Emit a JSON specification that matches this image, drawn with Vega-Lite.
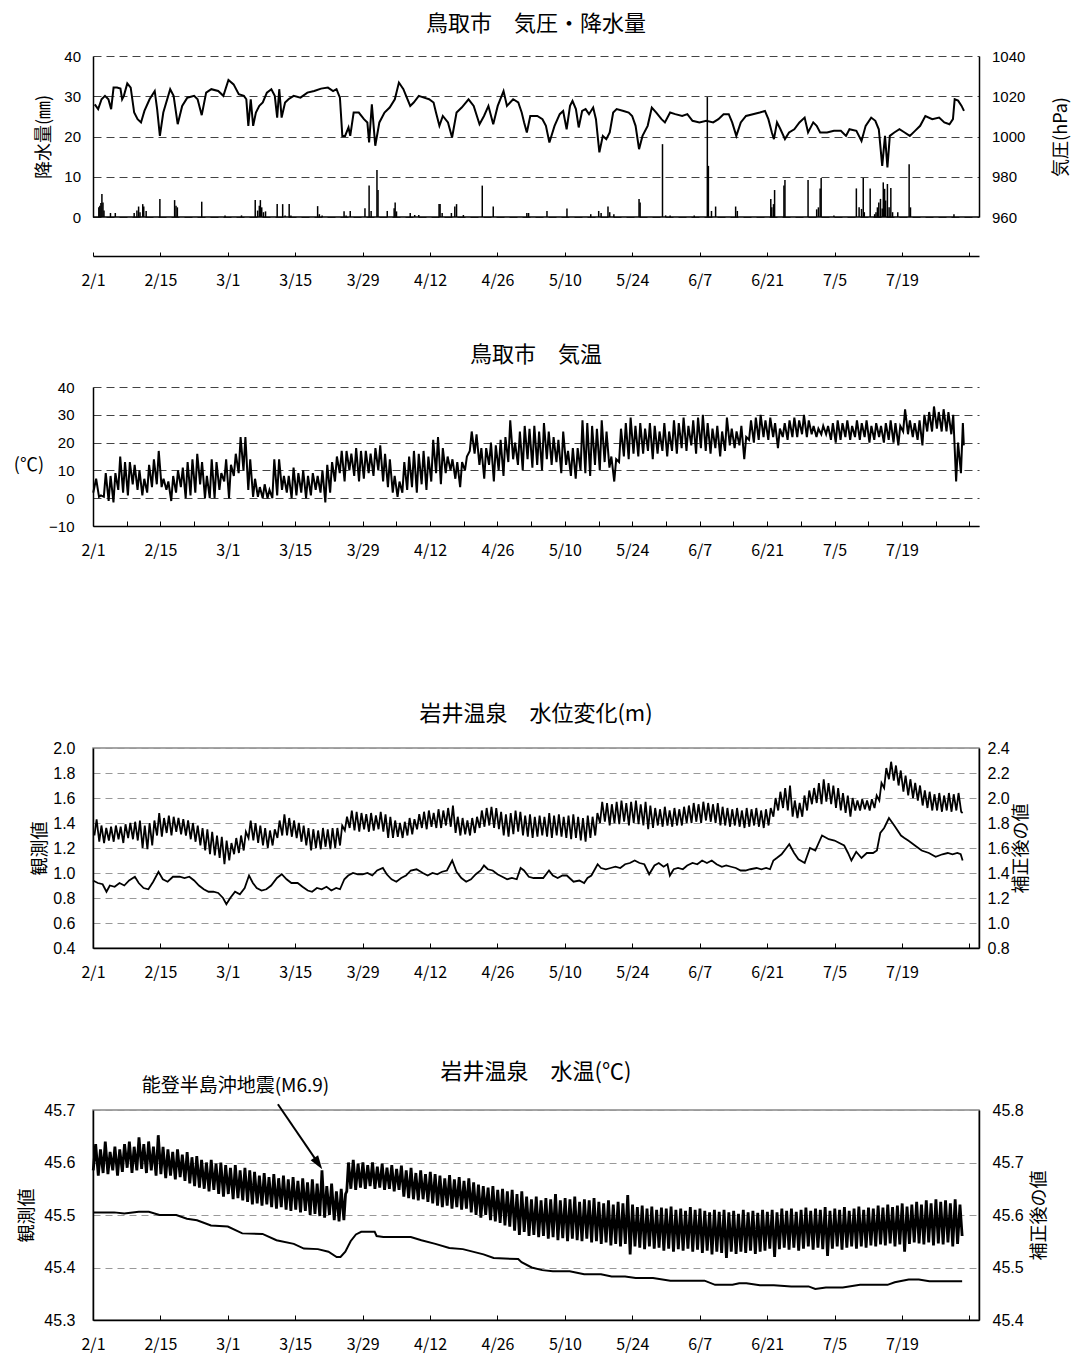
{
"$schema": "https://vega.github.io/schema/vega-lite/v6.json",
"background": "white",
"padding": {"left": 13, "top": 13, "right": 0, "bottom": 0},
"spacing": 40,
"config": {
  "font": "Noto Sans CJK JP",
  "view": {"stroke": null},
  "title": {"font": "Noto Sans CJK JP", "fontSize": 22, "fontWeight": "normal", "color": "black", "anchor": "middle", "frame": "group"},
  "axis": {"labelFont": "Liberation Sans", "labelFontSize": 15, "labelColor": "black", "titleFont": "Noto Sans CJK JP", "titleFontSize": 18, "titleFontWeight": "normal", "titleColor": "black", "domainColor": "black", "domainWidth": 1.5, "tickColor": "black", "gridColor": "#444", "gridDash": [8, 5], "gridWidth": 1}
},
"datasets": {
"pres": [{"d":0.36,"v":1016.0},{"d":1.07,"v":1013.6},{"d":1.78,"v":1018.5},{"d":2.49,"v":1020.2},{"d":3.2,"v":1018.5},{"d":3.77,"v":1013.6},{"d":4.27,"v":1024.3},{"d":4.99,"v":1024.3},{"d":5.7,"v":1023.8},{"d":6.05,"v":1018.5},{"d":6.41,"v":1020.2},{"d":7.12,"v":1026.4},{"d":7.83,"v":1024.3},{"d":8.55,"v":1011.9},{"d":9.26,"v":1008.6},{"d":9.97,"v":1007.0},{"d":10.68,"v":1012.7},{"d":11.75,"v":1018.5},{"d":12.82,"v":1022.6},{"d":13.32,"v":1013.6},{"d":13.89,"v":1000.3},{"d":14.6,"v":1011.9},{"d":16.03,"v":1023.5},{"d":16.74,"v":1020.2},{"d":17.59,"v":1006.1},{"d":18.52,"v":1015.2},{"d":19.59,"v":1019.3},{"d":21.01,"v":1020.2},{"d":21.72,"v":1018.5},{"d":22.58,"v":1010.6},{"d":23.5,"v":1021.8},{"d":24.57,"v":1023.5},{"d":26.0,"v":1022.6},{"d":27.07,"v":1020.2},{"d":28.13,"v":1028.1},{"d":29.2,"v":1025.9},{"d":30.27,"v":1021.0},{"d":31.34,"v":1020.2},{"d":31.84,"v":1018.5},{"d":32.26,"v":1005.3},{"d":32.76,"v":1018.5},{"d":33.26,"v":1005.3},{"d":33.83,"v":1011.9},{"d":34.54,"v":1015.2},{"d":35.26,"v":1016.9},{"d":36.11,"v":1021.8},{"d":37.04,"v":1023.5},{"d":37.75,"v":1020.2},{"d":38.25,"v":1009.4},{"d":38.68,"v":1023.5},{"d":39.17,"v":1009.4},{"d":39.89,"v":1016.9},{"d":40.6,"v":1018.5},{"d":41.67,"v":1020.2},{"d":43.09,"v":1019.3},{"d":44.52,"v":1021.8},{"d":45.94,"v":1022.6},{"d":47.36,"v":1023.8},{"d":48.79,"v":1024.3},{"d":49.86,"v":1022.6},{"d":50.57,"v":1023.5},{"d":51.28,"v":1019.3},{"d":51.78,"v":1000.3},{"d":52.35,"v":1000.3},{"d":53.06,"v":1004.5},{"d":53.42,"v":1000.3},{"d":54.13,"v":1011.9},{"d":55.2,"v":1011.9},{"d":56.27,"v":1008.6},{"d":56.98,"v":1007.0},{"d":57.34,"v":997.0},{"d":57.91,"v":1016.0},{"d":58.62,"v":995.4},{"d":59.47,"v":1007.0},{"d":60.54,"v":1011.9},{"d":61.61,"v":1014.4},{"d":62.68,"v":1018.5},{"d":63.53,"v":1026.8},{"d":64.46,"v":1023.5},{"d":65.17,"v":1019.3},{"d":65.88,"v":1015.2},{"d":66.6,"v":1016.9},{"d":67.66,"v":1020.2},{"d":68.73,"v":1019.3},{"d":69.8,"v":1018.5},{"d":70.73,"v":1016.9},{"d":71.23,"v":1011.9},{"d":71.94,"v":1005.3},{"d":72.65,"v":1010.2},{"d":73.72,"v":1007.0},{"d":74.57,"v":999.5},{"d":75.5,"v":1011.9},{"d":76.57,"v":1014.4},{"d":77.99,"v":1018.5},{"d":79.06,"v":1015.2},{"d":80.27,"v":1006.1},{"d":81.2,"v":1010.2},{"d":82.12,"v":1015.2},{"d":83.12,"v":1006.1},{"d":84.05,"v":1015.2},{"d":85.26,"v":1022.6},{"d":85.97,"v":1015.2},{"d":87.25,"v":1018.5},{"d":88.32,"v":1016.9},{"d":89.03,"v":1011.9},{"d":89.53,"v":1007.0},{"d":90.1,"v":1002.0},{"d":90.81,"v":1010.2},{"d":92.27,"v":1010.2},{"d":93.34,"v":1008.6},{"d":94.06,"v":1005.3},{"d":94.78,"v":997.0},{"d":95.85,"v":1005.3},{"d":96.93,"v":1011.1},{"d":97.64,"v":1012.7},{"d":98.36,"v":1003.6},{"d":99.07,"v":1015.2},{"d":99.58,"v":1017.7},{"d":100.29,"v":1013.6},{"d":100.87,"v":1004.5},{"d":101.58,"v":1012.7},{"d":102.3,"v":1013.6},{"d":103.01,"v":1011.1},{"d":103.87,"v":1014.4},{"d":104.45,"v":1008.6},{"d":105.16,"v":992.1},{"d":105.88,"v":1000.3},{"d":106.6,"v":998.7},{"d":107.31,"v":1002.0},{"d":108.03,"v":1011.9},{"d":108.75,"v":1013.6},{"d":110.18,"v":1012.7},{"d":111.25,"v":1011.9},{"d":111.97,"v":1010.2},{"d":112.68,"v":1005.3},{"d":113.4,"v":993.7},{"d":114.12,"v":1000.3},{"d":115.19,"v":1005.3},{"d":116.05,"v":1014.4},{"d":116.98,"v":1011.9},{"d":118.06,"v":1008.6},{"d":118.77,"v":1007.0},{"d":119.85,"v":1011.9},{"d":120.92,"v":1011.1},{"d":122.36,"v":1010.2},{"d":123.43,"v":1011.1},{"d":124.5,"v":1007.8},{"d":125.94,"v":1007.0},{"d":127.37,"v":1007.8},{"d":128.8,"v":1007.0},{"d":129.88,"v":1008.6},{"d":130.95,"v":1011.1},{"d":132.03,"v":1011.1},{"d":132.74,"v":1007.0},{"d":133.6,"v":1000.3},{"d":134.53,"v":1007.0},{"d":135.61,"v":1010.2},{"d":137.04,"v":1011.1},{"d":138.47,"v":1011.9},{"d":139.55,"v":1012.7},{"d":140.26,"v":1008.6},{"d":140.98,"v":1002.0},{"d":141.41,"v":998.7},{"d":142.05,"v":1007.0},{"d":142.77,"v":1003.6},{"d":143.7,"v":998.7},{"d":144.56,"v":1002.0},{"d":145.64,"v":1003.6},{"d":146.71,"v":1007.0},{"d":147.79,"v":1009.4},{"d":148.5,"v":1002.0},{"d":149.58,"v":1007.0},{"d":150.29,"v":1005.3},{"d":151.01,"v":1002.0},{"d":152.44,"v":1002.0},{"d":153.87,"v":1002.8},{"d":155.31,"v":1002.8},{"d":156.38,"v":1000.3},{"d":157.1,"v":1003.6},{"d":158.53,"v":1002.8},{"d":159.6,"v":997.8},{"d":160.46,"v":1005.3},{"d":161.61,"v":1009.4},{"d":162.47,"v":1007.8},{"d":163.19,"v":1003.6},{"d":163.9,"v":985.4},{"d":164.48,"v":1000.3},{"d":164.98,"v":984.6},{"d":165.48,"v":1000.3},{"d":166.41,"v":1002.0},{"d":167.48,"v":1003.6},{"d":168.56,"v":1002.0},{"d":169.63,"v":1000.3},{"d":170.71,"v":1002.8},{"d":171.78,"v":1005.3},{"d":172.86,"v":1010.2},{"d":174.29,"v":1008.6},{"d":175.72,"v":1009.4},{"d":176.8,"v":1007.0},{"d":177.87,"v":1006.1},{"d":178.59,"v":1008.6},{"d":178.95,"v":1018.5},{"d":179.66,"v":1017.8},{"d":180.38,"v":1015.2},{"d":180.88,"v":1012.7}],
"rain": [{"d":1.21,"v":2.4},{"d":1.42,"v":2.8},{"d":1.64,"v":3.5},{"d":1.85,"v":5.7},{"d":2.07,"v":3.6},{"d":2.28,"v":1.6},{"d":3.63,"v":1.0},{"d":4.63,"v":1.0},{"d":8.55,"v":1.0},{"d":9.12,"v":1.6},{"d":9.47,"v":2.6},{"d":9.76,"v":1.2},{"d":10.33,"v":3.2},{"d":10.54,"v":2.6},{"d":11.04,"v":1.5},{"d":13.89,"v":4.5},{"d":16.95,"v":4.2},{"d":17.24,"v":2.8},{"d":17.52,"v":2.4},{"d":22.58,"v":3.8},{"d":27.42,"v":0.4},{"d":30.84,"v":0.4},{"d":33.69,"v":4.2},{"d":34.19,"v":1.6},{"d":34.54,"v":2.8},{"d":34.76,"v":4.2},{"d":35.04,"v":2.4},{"d":35.4,"v":1.2},{"d":35.83,"v":1.4},{"d":38.25,"v":3.2},{"d":39.39,"v":3.2},{"d":39.89,"v":0.4},{"d":40.74,"v":3.2},{"d":41.1,"v":0.4},{"d":46.65,"v":2.7},{"d":47.01,"v":0.7},{"d":47.58,"v":0.4},{"d":52.14,"v":1.4},{"d":52.56,"v":0.4},{"d":53.42,"v":1.5},{"d":56.48,"v":2.2},{"d":57.34,"v":7.8},{"d":57.76,"v":1.5},{"d":58.97,"v":11.7},{"d":59.19,"v":6.7},{"d":61.11,"v":1.5},{"d":62.54,"v":2.2},{"d":62.75,"v":3.6},{"d":63.03,"v":1.4},{"d":65.88,"v":1.0},{"d":66.81,"v":0.5},{"d":67.66,"v":0.5},{"d":71.87,"v":3.2},{"d":72.08,"v":3.2},{"d":72.51,"v":1.0},{"d":74.43,"v":1.0},{"d":75.14,"v":2.6},{"d":75.5,"v":3.2},{"d":76.92,"v":0.5},{"d":80.84,"v":7.8},{"d":83.12,"v":2.6},{"d":90.1,"v":1.0},{"d":90.46,"v":1.0},{"d":94.28,"v":1.5},{"d":98.43,"v":2.1},{"d":103.37,"v":0.7},{"d":105.02,"v":1.5},{"d":105.52,"v":1.0},{"d":106.95,"v":2.6},{"d":107.31,"v":1.2},{"d":108.17,"v":0.7},{"d":113.4,"v":4.5},{"d":113.62,"v":3.6},{"d":118.27,"v":18.1},{"d":118.92,"v":0.4},{"d":119.85,"v":0.4},{"d":124.86,"v":0.4},{"d":127.58,"v":29.8},{"d":127.8,"v":12.7},{"d":128.44,"v":1.5},{"d":129.3,"v":2.6},{"d":133.46,"v":2.6},{"d":133.81,"v":1.5},{"d":140.76,"v":4.5},{"d":140.97,"v":2.4},{"d":141.33,"v":3.2},{"d":141.55,"v":6.7},{"d":143.49,"v":7.8},{"d":143.7,"v":9.2},{"d":148.5,"v":9.2},{"d":150.29,"v":1.9},{"d":150.65,"v":2.4},{"d":151.01,"v":7.1},{"d":151.22,"v":9.7},{"d":153.87,"v":0.4},{"d":158.53,"v":7.1},{"d":159.1,"v":2.4},{"d":159.6,"v":2.0},{"d":159.96,"v":9.7},{"d":160.18,"v":1.2},{"d":161.4,"v":7.1},{"d":162.33,"v":0.7},{"d":162.61,"v":1.2},{"d":162.9,"v":2.4},{"d":163.19,"v":3.6},{"d":163.54,"v":4.5},{"d":163.9,"v":2.1},{"d":164.12,"v":8.6},{"d":164.4,"v":7.0},{"d":164.61,"v":4.1},{"d":164.98,"v":8.2},{"d":165.33,"v":2.4},{"d":165.69,"v":7.2},{"d":166.05,"v":1.2},{"d":167.13,"v":1.2},{"d":169.49,"v":13.1},{"d":169.77,"v":2.4},{"d":178.8,"v":0.7}],
"temp": [{"d":0.05,"v":2},{"d":0.65,"v":7},{"d":1.25,"v":0.5},{"d":1.65,"v":1},{"d":2.25,"v":0.5},{"d":2.65,"v":9},{"d":3.25,"v":-1},{"d":3.65,"v":8},{"d":4.25,"v":-1.5},{"d":4.65,"v":9},{"d":5.25,"v":3},{"d":5.65,"v":15},{"d":6.25,"v":2},{"d":6.65,"v":13},{"d":7.25,"v":1},{"d":7.65,"v":13},{"d":8.25,"v":5},{"d":8.65,"v":12},{"d":9.25,"v":3},{"d":9.65,"v":10},{"d":10.25,"v":1},{"d":10.65,"v":7},{"d":11.25,"v":2},{"d":11.65,"v":12},{"d":12.25,"v":4},{"d":12.65,"v":14},{"d":13.25,"v":5},{"d":13.65,"v":17},{"d":14.25,"v":4},{"d":14.65,"v":7},{"d":15.25,"v":3},{"d":15.65,"v":6},{"d":16.25,"v":-1},{"d":16.65,"v":8},{"d":17.25,"v":2},{"d":17.65,"v":10},{"d":18.25,"v":4},{"d":18.65,"v":11},{"d":19.25,"v":0},{"d":19.65,"v":13},{"d":20.25,"v":1},{"d":20.65,"v":14},{"d":21.25,"v":2},{"d":21.65,"v":16},{"d":22.25,"v":5},{"d":22.65,"v":13},{"d":23.25,"v":0},{"d":23.65,"v":8},{"d":24.25,"v":0},{"d":24.65,"v":14},{"d":25.25,"v":0},{"d":25.65,"v":13},{"d":26.25,"v":3},{"d":26.65,"v":9},{"d":27.25,"v":6},{"d":27.65,"v":14},{"d":28.25,"v":0},{"d":28.65,"v":12},{"d":29.25,"v":8},{"d":29.65,"v":16},{"d":30.25,"v":9},{"d":30.65,"v":22},{"d":31.25,"v":10},{"d":31.65,"v":22},{"d":32.25,"v":3},{"d":32.65,"v":14},{"d":33.25,"v":0.5},{"d":33.65,"v":7},{"d":34.25,"v":0.5},{"d":34.65,"v":4},{"d":35.25,"v":0},{"d":35.65,"v":5},{"d":36.25,"v":0},{"d":36.65,"v":3},{"d":37.25,"v":0},{"d":37.65,"v":14},{"d":38.25,"v":1},{"d":38.65,"v":14},{"d":39.25,"v":3},{"d":39.65,"v":8},{"d":40.25,"v":2},{"d":40.65,"v":8},{"d":41.25,"v":0},{"d":41.65,"v":11},{"d":42.25,"v":1},{"d":42.65,"v":9},{"d":43.25,"v":2},{"d":43.65,"v":10},{"d":44.25,"v":0},{"d":44.65,"v":8},{"d":45.25,"v":1},{"d":45.65,"v":9},{"d":46.25,"v":3},{"d":46.65,"v":8},{"d":47.25,"v":2},{"d":47.65,"v":10},{"d":48.25,"v":-1.5},{"d":48.65,"v":12},{"d":49.25,"v":2},{"d":49.65,"v":13},{"d":50.25,"v":6},{"d":50.65,"v":15},{"d":51.25,"v":9},{"d":51.65,"v":17},{"d":52.25,"v":6},{"d":52.65,"v":17},{"d":53.25,"v":10},{"d":53.65,"v":16},{"d":54.25,"v":8},{"d":54.65,"v":18},{"d":55.25,"v":6},{"d":55.65,"v":17},{"d":56.25,"v":7},{"d":56.65,"v":17},{"d":57.25,"v":9},{"d":57.65,"v":16},{"d":58.25,"v":8},{"d":58.65,"v":18},{"d":59.25,"v":10},{"d":59.65,"v":19},{"d":60.25,"v":6},{"d":60.65,"v":16},{"d":61.25,"v":4},{"d":61.65,"v":14},{"d":62.25,"v":2},{"d":62.65,"v":8},{"d":63.25,"v":0.5},{"d":63.65,"v":6},{"d":64.25,"v":2},{"d":64.65,"v":13},{"d":65.25,"v":3},{"d":65.65,"v":15},{"d":66.25,"v":4},{"d":66.65,"v":17},{"d":67.25,"v":2},{"d":67.65,"v":16},{"d":68.25,"v":5},{"d":68.65,"v":17},{"d":69.25,"v":3},{"d":69.65,"v":15},{"d":70.25,"v":6},{"d":70.65,"v":21},{"d":71.25,"v":9},{"d":71.65,"v":22},{"d":72.25,"v":5},{"d":72.65,"v":18},{"d":73.25,"v":9},{"d":73.65,"v":15},{"d":74.25,"v":10},{"d":74.65,"v":14},{"d":75.25,"v":7},{"d":75.65,"v":13},{"d":76.25,"v":4},{"d":76.65,"v":13},{"d":77.25,"v":10},{"d":77.65,"v":15},{"d":78.25,"v":17},{"d":78.65,"v":24},{"d":79.25,"v":16},{"d":79.65,"v":23},{"d":80.25,"v":12},{"d":80.65,"v":18},{"d":81.25,"v":7},{"d":81.65,"v":18},{"d":82.25,"v":12},{"d":82.65,"v":20},{"d":83.25,"v":6},{"d":83.65,"v":19},{"d":84.25,"v":10},{"d":84.65,"v":21},{"d":85.25,"v":8},{"d":85.65,"v":22},{"d":86.25,"v":13},{"d":86.65,"v":28},{"d":87.25,"v":14},{"d":87.65,"v":20},{"d":88.25,"v":12},{"d":88.65,"v":24},{"d":89.25,"v":10},{"d":89.65,"v":26},{"d":90.25,"v":14},{"d":90.65,"v":25},{"d":91.25,"v":11},{"d":91.65,"v":26},{"d":92.25,"v":12},{"d":92.65,"v":24},{"d":93.25,"v":10},{"d":93.65,"v":27},{"d":94.25,"v":14},{"d":94.65,"v":24},{"d":95.25,"v":12},{"d":95.65,"v":22},{"d":96.25,"v":13},{"d":96.65,"v":21},{"d":97.25,"v":9},{"d":97.65,"v":24},{"d":98.25,"v":12},{"d":98.65,"v":17},{"d":99.25,"v":8},{"d":99.65,"v":18},{"d":100.25,"v":7},{"d":100.65,"v":18},{"d":101.25,"v":10},{"d":101.65,"v":28},{"d":102.25,"v":9},{"d":102.65,"v":27},{"d":103.25,"v":8},{"d":103.65,"v":26},{"d":104.25,"v":12},{"d":104.65,"v":25},{"d":105.25,"v":10},{"d":105.65,"v":28},{"d":106.25,"v":13},{"d":106.65,"v":24},{"d":107.25,"v":11},{"d":107.65,"v":15},{"d":108.25,"v":6},{"d":108.65,"v":14},{"d":109.25,"v":13},{"d":109.65,"v":25},{"d":110.25,"v":15},{"d":110.65,"v":27},{"d":111.25,"v":14},{"d":111.65,"v":29},{"d":112.25,"v":16},{"d":112.65,"v":26},{"d":113.25,"v":15},{"d":113.65,"v":27},{"d":114.25,"v":16},{"d":114.65,"v":25},{"d":115.25,"v":17},{"d":115.65,"v":27},{"d":116.25,"v":14},{"d":116.65,"v":26},{"d":117.25,"v":16},{"d":117.65,"v":24},{"d":118.25,"v":17},{"d":118.65,"v":27},{"d":119.25,"v":15},{"d":119.65,"v":24},{"d":120.25,"v":17},{"d":120.65,"v":28},{"d":121.25,"v":16},{"d":121.65,"v":27},{"d":122.25,"v":18},{"d":122.65,"v":29},{"d":123.25,"v":17},{"d":123.65,"v":26},{"d":124.25,"v":19},{"d":124.65,"v":28},{"d":125.25,"v":16},{"d":125.65,"v":29},{"d":126.25,"v":18},{"d":126.65,"v":30},{"d":127.25,"v":17},{"d":127.65,"v":27},{"d":128.25,"v":16},{"d":128.65,"v":25},{"d":129.25,"v":18},{"d":129.65,"v":26},{"d":130.25,"v":15},{"d":130.65,"v":24},{"d":131.25,"v":17},{"d":131.65,"v":29},{"d":132.25,"v":19},{"d":132.65,"v":25},{"d":133.25,"v":18},{"d":133.65,"v":24},{"d":134.25,"v":19},{"d":134.65,"v":26},{"d":135.25,"v":14},{"d":135.65,"v":22},{"d":136.25,"v":21},{"d":136.65,"v":28},{"d":137.25,"v":20},{"d":137.65,"v":29},{"d":138.25,"v":21},{"d":138.65,"v":30},{"d":139.25,"v":22},{"d":139.65,"v":28},{"d":140.25,"v":21},{"d":140.65,"v":29},{"d":141.25,"v":22},{"d":141.65,"v":27},{"d":142.25,"v":18},{"d":142.65,"v":25},{"d":143.25,"v":22},{"d":143.65,"v":27},{"d":144.25,"v":21},{"d":144.65,"v":28},{"d":145.25,"v":22},{"d":145.65,"v":29},{"d":146.25,"v":22},{"d":146.65,"v":28},{"d":147.25,"v":23},{"d":147.65,"v":30},{"d":148.25,"v":22},{"d":148.65,"v":28},{"d":149.25,"v":23},{"d":149.65,"v":26},{"d":150.25,"v":22},{"d":150.65,"v":25},{"d":151.25,"v":23},{"d":151.65,"v":26},{"d":152.25,"v":23},{"d":152.65,"v":26},{"d":153.25,"v":21},{"d":153.65,"v":27},{"d":154.25,"v":20},{"d":154.65,"v":28},{"d":155.25,"v":21},{"d":155.65,"v":27},{"d":156.25,"v":22},{"d":156.65,"v":28},{"d":157.25,"v":21},{"d":157.65,"v":26},{"d":158.25,"v":22},{"d":158.65,"v":28},{"d":159.25,"v":21},{"d":159.65,"v":27},{"d":160.25,"v":22},{"d":160.65,"v":28},{"d":161.25,"v":20},{"d":161.65,"v":26},{"d":162.25,"v":21},{"d":162.65,"v":27},{"d":163.25,"v":22},{"d":163.65,"v":26},{"d":164.25,"v":20},{"d":164.65,"v":27},{"d":165.25,"v":21},{"d":165.65,"v":28},{"d":166.25,"v":20},{"d":166.65,"v":27},{"d":167.25,"v":19},{"d":167.65,"v":26},{"d":168.25,"v":24},{"d":168.65,"v":32},{"d":169.25,"v":23},{"d":169.65,"v":28},{"d":170.25,"v":22},{"d":170.65,"v":27},{"d":171.25,"v":21},{"d":171.65,"v":28},{"d":172.25,"v":19},{"d":172.65,"v":30},{"d":173.25,"v":24},{"d":173.65,"v":31},{"d":174.25,"v":24},{"d":174.65,"v":33},{"d":175.25,"v":25},{"d":175.65,"v":31},{"d":176.25,"v":24},{"d":176.65,"v":32},{"d":177.25,"v":24},{"d":177.65,"v":31},{"d":178.25,"v":23},{"d":178.65,"v":30},{"d":179.25,"v":6},{"d":179.65,"v":20},{"d":180.25,"v":9},{"d":180.65,"v":27},{"d":180.85,"v":19}],
"wl1": [{"d":0.3,"v":1.30},{"d":0.75,"v":1.43},{"d":1.3,"v":1.25},{"d":1.75,"v":1.38},{"d":2.3,"v":1.24},{"d":2.75,"v":1.36},{"d":3.3,"v":1.26},{"d":3.75,"v":1.37},{"d":4.3,"v":1.25},{"d":4.75,"v":1.38},{"d":5.3,"v":1.27},{"d":5.75,"v":1.37},{"d":6.3,"v":1.24},{"d":6.75,"v":1.39},{"d":7.3,"v":1.28},{"d":7.75,"v":1.40},{"d":8.3,"v":1.27},{"d":8.75,"v":1.41},{"d":9.3,"v":1.26},{"d":9.75,"v":1.42},{"d":10.3,"v":1.20},{"d":10.75,"v":1.38},{"d":11.3,"v":1.19},{"d":11.75,"v":1.40},{"d":12.3,"v":1.22},{"d":12.75,"v":1.42},{"d":13.3,"v":1.30},{"d":13.75,"v":1.48},{"d":14.3,"v":1.29},{"d":14.75,"v":1.44},{"d":15.3,"v":1.32},{"d":15.75,"v":1.46},{"d":16.3,"v":1.30},{"d":16.75,"v":1.45},{"d":17.3,"v":1.33},{"d":17.75,"v":1.44},{"d":18.3,"v":1.31},{"d":18.75,"v":1.43},{"d":19.3,"v":1.30},{"d":19.75,"v":1.42},{"d":20.3,"v":1.27},{"d":20.75,"v":1.40},{"d":21.3,"v":1.25},{"d":21.75,"v":1.38},{"d":22.3,"v":1.22},{"d":22.75,"v":1.36},{"d":23.3,"v":1.18},{"d":23.75,"v":1.35},{"d":24.3,"v":1.15},{"d":24.75,"v":1.33},{"d":25.3,"v":1.14},{"d":25.75,"v":1.30},{"d":26.3,"v":1.12},{"d":26.75,"v":1.29},{"d":27.3,"v":1.07},{"d":27.75,"v":1.26},{"d":28.3,"v":1.10},{"d":28.75,"v":1.24},{"d":29.3,"v":1.15},{"d":29.75,"v":1.28},{"d":30.3,"v":1.16},{"d":30.75,"v":1.30},{"d":31.3,"v":1.18},{"d":31.75,"v":1.33},{"d":32.3,"v":1.28},{"d":32.75,"v":1.42},{"d":33.3,"v":1.26},{"d":33.75,"v":1.40},{"d":34.3,"v":1.24},{"d":34.75,"v":1.38},{"d":35.3,"v":1.22},{"d":35.75,"v":1.36},{"d":36.3,"v":1.20},{"d":36.75,"v":1.34},{"d":37.3,"v":1.22},{"d":37.75,"v":1.35},{"d":38.3,"v":1.28},{"d":38.75,"v":1.42},{"d":39.3,"v":1.30},{"d":39.75,"v":1.47},{"d":40.3,"v":1.30},{"d":40.75,"v":1.44},{"d":41.3,"v":1.29},{"d":41.75,"v":1.42},{"d":42.3,"v":1.28},{"d":42.75,"v":1.40},{"d":43.3,"v":1.25},{"d":43.75,"v":1.38},{"d":44.3,"v":1.22},{"d":44.75,"v":1.36},{"d":45.3,"v":1.18},{"d":45.75,"v":1.35},{"d":46.3,"v":1.20},{"d":46.75,"v":1.34},{"d":47.3,"v":1.19},{"d":47.75,"v":1.36},{"d":48.3,"v":1.21},{"d":48.75,"v":1.35},{"d":49.3,"v":1.19},{"d":49.75,"v":1.36},{"d":50.3,"v":1.20},{"d":50.75,"v":1.36},{"d":51.3,"v":1.22},{"d":51.75,"v":1.38},{"d":52.3,"v":1.34},{"d":52.75,"v":1.45},{"d":53.3,"v":1.36},{"d":53.75,"v":1.50},{"d":54.3,"v":1.34},{"d":54.75,"v":1.49},{"d":55.3,"v":1.33},{"d":55.75,"v":1.48},{"d":56.3,"v":1.35},{"d":56.75,"v":1.47},{"d":57.3,"v":1.33},{"d":57.75,"v":1.48},{"d":58.3,"v":1.34},{"d":58.75,"v":1.46},{"d":59.3,"v":1.35},{"d":59.75,"v":1.49},{"d":60.3,"v":1.33},{"d":60.75,"v":1.47},{"d":61.3,"v":1.28},{"d":61.75,"v":1.45},{"d":62.3,"v":1.28},{"d":62.75,"v":1.42},{"d":63.3,"v":1.29},{"d":63.75,"v":1.40},{"d":64.3,"v":1.28},{"d":64.75,"v":1.41},{"d":65.3,"v":1.30},{"d":65.75,"v":1.44},{"d":66.3,"v":1.31},{"d":66.75,"v":1.43},{"d":67.3,"v":1.35},{"d":67.75,"v":1.47},{"d":68.3,"v":1.36},{"d":68.75,"v":1.49},{"d":69.3,"v":1.35},{"d":69.75,"v":1.50},{"d":70.3,"v":1.37},{"d":70.75,"v":1.48},{"d":71.3,"v":1.36},{"d":71.75,"v":1.51},{"d":72.3,"v":1.36},{"d":72.75,"v":1.50},{"d":73.3,"v":1.38},{"d":73.75,"v":1.52},{"d":74.3,"v":1.37},{"d":74.75,"v":1.54},{"d":75.3,"v":1.32},{"d":75.75,"v":1.45},{"d":76.3,"v":1.30},{"d":76.75,"v":1.44},{"d":77.3,"v":1.31},{"d":77.75,"v":1.42},{"d":78.3,"v":1.30},{"d":78.75,"v":1.44},{"d":79.3,"v":1.32},{"d":79.75,"v":1.45},{"d":80.3,"v":1.36},{"d":80.75,"v":1.50},{"d":81.3,"v":1.37},{"d":81.75,"v":1.52},{"d":82.3,"v":1.38},{"d":82.75,"v":1.53},{"d":83.3,"v":1.36},{"d":83.75,"v":1.52},{"d":84.3,"v":1.35},{"d":84.75,"v":1.49},{"d":85.3,"v":1.30},{"d":85.75,"v":1.47},{"d":86.3,"v":1.29},{"d":86.75,"v":1.48},{"d":87.3,"v":1.31},{"d":87.75,"v":1.50},{"d":88.3,"v":1.33},{"d":88.75,"v":1.49},{"d":89.3,"v":1.30},{"d":89.75,"v":1.46},{"d":90.3,"v":1.29},{"d":90.75,"v":1.47},{"d":91.3,"v":1.28},{"d":91.75,"v":1.45},{"d":92.3,"v":1.29},{"d":92.75,"v":1.46},{"d":93.3,"v":1.30},{"d":93.75,"v":1.45},{"d":94.3,"v":1.29},{"d":94.75,"v":1.48},{"d":95.3,"v":1.28},{"d":95.75,"v":1.46},{"d":96.3,"v":1.30},{"d":96.75,"v":1.47},{"d":97.3,"v":1.29},{"d":97.75,"v":1.45},{"d":98.3,"v":1.28},{"d":98.75,"v":1.46},{"d":99.3,"v":1.27},{"d":99.75,"v":1.47},{"d":100.3,"v":1.28},{"d":100.75,"v":1.45},{"d":101.3,"v":1.26},{"d":101.75,"v":1.44},{"d":102.3,"v":1.25},{"d":102.75,"v":1.46},{"d":103.3,"v":1.28},{"d":103.75,"v":1.45},{"d":104.3,"v":1.30},{"d":104.75,"v":1.48},{"d":105.3,"v":1.40},{"d":105.75,"v":1.57},{"d":106.3,"v":1.41},{"d":106.75,"v":1.56},{"d":107.3,"v":1.38},{"d":107.75,"v":1.55},{"d":108.3,"v":1.40},{"d":108.75,"v":1.57},{"d":109.3,"v":1.39},{"d":109.75,"v":1.58},{"d":110.3,"v":1.41},{"d":110.75,"v":1.56},{"d":111.3,"v":1.38},{"d":111.75,"v":1.57},{"d":112.3,"v":1.40},{"d":112.75,"v":1.58},{"d":113.3,"v":1.39},{"d":113.75,"v":1.55},{"d":114.3,"v":1.38},{"d":114.75,"v":1.57},{"d":115.3,"v":1.35},{"d":115.75,"v":1.54},{"d":116.3,"v":1.36},{"d":116.75,"v":1.52},{"d":117.3,"v":1.38},{"d":117.75,"v":1.51},{"d":118.3,"v":1.37},{"d":118.75,"v":1.53},{"d":119.3,"v":1.38},{"d":119.75,"v":1.50},{"d":120.3,"v":1.37},{"d":120.75,"v":1.52},{"d":121.3,"v":1.38},{"d":121.75,"v":1.51},{"d":122.3,"v":1.38},{"d":122.75,"v":1.53},{"d":123.3,"v":1.40},{"d":123.75,"v":1.54},{"d":124.3,"v":1.40},{"d":124.75,"v":1.56},{"d":125.3,"v":1.41},{"d":125.75,"v":1.55},{"d":126.3,"v":1.40},{"d":126.75,"v":1.57},{"d":127.3,"v":1.42},{"d":127.75,"v":1.56},{"d":128.3,"v":1.41},{"d":128.75,"v":1.55},{"d":129.3,"v":1.40},{"d":129.75,"v":1.56},{"d":130.3,"v":1.38},{"d":130.75,"v":1.53},{"d":131.3,"v":1.38},{"d":131.75,"v":1.52},{"d":132.3,"v":1.37},{"d":132.75,"v":1.51},{"d":133.3,"v":1.38},{"d":133.75,"v":1.52},{"d":134.3,"v":1.37},{"d":134.75,"v":1.50},{"d":135.3,"v":1.36},{"d":135.75,"v":1.52},{"d":136.3,"v":1.37},{"d":136.75,"v":1.51},{"d":137.3,"v":1.38},{"d":137.75,"v":1.52},{"d":138.3,"v":1.37},{"d":138.75,"v":1.50},{"d":139.3,"v":1.36},{"d":139.75,"v":1.51},{"d":140.3,"v":1.38},{"d":140.75,"v":1.52},{"d":141.3,"v":1.45},{"d":141.75,"v":1.60},{"d":142.3,"v":1.50},{"d":142.75,"v":1.65},{"d":143.3,"v":1.52},{"d":143.75,"v":1.68},{"d":144.3,"v":1.50},{"d":144.75,"v":1.70},{"d":145.3,"v":1.45},{"d":145.75,"v":1.58},{"d":146.3,"v":1.44},{"d":146.75,"v":1.56},{"d":147.3,"v":1.45},{"d":147.75,"v":1.62},{"d":148.3,"v":1.50},{"d":148.75,"v":1.66},{"d":149.3,"v":1.55},{"d":149.75,"v":1.68},{"d":150.3,"v":1.56},{"d":150.75,"v":1.72},{"d":151.3,"v":1.55},{"d":151.75,"v":1.75},{"d":152.3,"v":1.57},{"d":152.75,"v":1.72},{"d":153.3,"v":1.55},{"d":153.75,"v":1.70},{"d":154.3,"v":1.52},{"d":154.75,"v":1.68},{"d":155.3,"v":1.50},{"d":155.75,"v":1.64},{"d":156.3,"v":1.48},{"d":156.75,"v":1.62},{"d":157.3,"v":1.45},{"d":157.75,"v":1.60},{"d":158.3,"v":1.50},{"d":158.75,"v":1.58},{"d":159.3,"v":1.50},{"d":159.75,"v":1.59},{"d":160.3,"v":1.51},{"d":160.75,"v":1.58},{"d":161.3,"v":1.50},{"d":161.75,"v":1.59},{"d":162.3,"v":1.52},{"d":162.75,"v":1.62},{"d":163.3,"v":1.58},{"d":163.75,"v":1.72},{"d":164.3,"v":1.68},{"d":164.75,"v":1.84},{"d":165.3,"v":1.75},{"d":165.75,"v":1.89},{"d":166.3,"v":1.74},{"d":166.75,"v":1.86},{"d":167.3,"v":1.70},{"d":167.75,"v":1.82},{"d":168.3,"v":1.65},{"d":168.75,"v":1.78},{"d":169.3,"v":1.62},{"d":169.75,"v":1.75},{"d":170.3,"v":1.60},{"d":170.75,"v":1.72},{"d":171.3,"v":1.58},{"d":171.75,"v":1.70},{"d":172.3,"v":1.54},{"d":172.75,"v":1.66},{"d":173.3,"v":1.52},{"d":173.75,"v":1.65},{"d":174.3,"v":1.50},{"d":174.75,"v":1.63},{"d":175.3,"v":1.50},{"d":175.75,"v":1.64},{"d":176.3,"v":1.49},{"d":176.75,"v":1.62},{"d":177.3,"v":1.50},{"d":177.75,"v":1.64},{"d":178.3,"v":1.49},{"d":178.75,"v":1.63},{"d":179.3,"v":1.50},{"d":179.75,"v":1.64},{"d":180.3,"v":1.49},{"d":180.6,"v":1.48}],
"wl2": [{"d":0,"v":1.34},{"d":1,"v":1.32},{"d":2,"v":1.31},{"d":2.8,"v":1.25},{"d":3.5,"v":1.30},{"d":4.5,"v":1.29},{"d":5.5,"v":1.32},{"d":6.5,"v":1.30},{"d":7.5,"v":1.34},{"d":8.7,"v":1.37},{"d":9.5,"v":1.32},{"d":10.5,"v":1.28},{"d":11.5,"v":1.27},{"d":12.5,"v":1.33},{"d":13.6,"v":1.41},{"d":14.5,"v":1.35},{"d":15.5,"v":1.33},{"d":16.6,"v":1.37},{"d":18,"v":1.37},{"d":19,"v":1.36},{"d":20,"v":1.37},{"d":21,"v":1.34},{"d":22,"v":1.30},{"d":23,"v":1.27},{"d":24,"v":1.25},{"d":25,"v":1.25},{"d":26,"v":1.24},{"d":27,"v":1.20},{"d":27.7,"v":1.15},{"d":28.5,"v":1.20},{"d":29.5,"v":1.25},{"d":30.5,"v":1.23},{"d":31.5,"v":1.28},{"d":32.4,"v":1.38},{"d":33.2,"v":1.32},{"d":34,"v":1.28},{"d":35,"v":1.26},{"d":36,"v":1.27},{"d":37,"v":1.30},{"d":38.2,"v":1.36},{"d":39.2,"v":1.39},{"d":40.2,"v":1.35},{"d":41.2,"v":1.32},{"d":42.5,"v":1.32},{"d":43.5,"v":1.29},{"d":44.6,"v":1.26},{"d":45.5,"v":1.25},{"d":46.5,"v":1.28},{"d":47.5,"v":1.27},{"d":48.5,"v":1.29},{"d":49.5,"v":1.26},{"d":50.5,"v":1.28},{"d":51.3,"v":1.27},{"d":52.2,"v":1.35},{"d":53,"v":1.38},{"d":54,"v":1.40},{"d":55,"v":1.39},{"d":56,"v":1.39},{"d":57,"v":1.40},{"d":58,"v":1.38},{"d":59,"v":1.42},{"d":60.2,"v":1.44},{"d":61,"v":1.39},{"d":62,"v":1.35},{"d":63,"v":1.33},{"d":64,"v":1.36},{"d":65,"v":1.38},{"d":66,"v":1.42},{"d":67.2,"v":1.43},{"d":68.5,"v":1.40},{"d":69.5,"v":1.38},{"d":70.5,"v":1.40},{"d":71.5,"v":1.39},{"d":72.5,"v":1.41},{"d":73.5,"v":1.42},{"d":74.6,"v":1.50},{"d":75.5,"v":1.41},{"d":76.5,"v":1.36},{"d":77.5,"v":1.33},{"d":78.5,"v":1.35},{"d":79.5,"v":1.39},{"d":80.5,"v":1.42},{"d":81.2,"v":1.46},{"d":82,"v":1.43},{"d":83,"v":1.42},{"d":84,"v":1.39},{"d":85,"v":1.37},{"d":86,"v":1.35},{"d":87,"v":1.36},{"d":88,"v":1.35},{"d":88.8,"v":1.44},{"d":89.5,"v":1.42},{"d":90.5,"v":1.37},{"d":91.5,"v":1.36},{"d":92.5,"v":1.36},{"d":93.5,"v":1.36},{"d":94.7,"v":1.42},{"d":95.5,"v":1.38},{"d":96.5,"v":1.36},{"d":97.5,"v":1.38},{"d":98.4,"v":1.38},{"d":99.8,"v":1.33},{"d":101,"v":1.34},{"d":102,"v":1.32},{"d":102.7,"v":1.36},{"d":103.5,"v":1.38},{"d":104.8,"v":1.47},{"d":105.5,"v":1.44},{"d":106.5,"v":1.43},{"d":107.5,"v":1.44},{"d":108.5,"v":1.45},{"d":109.5,"v":1.44},{"d":110.5,"v":1.47},{"d":111.5,"v":1.48},{"d":112.5,"v":1.50},{"d":113.5,"v":1.48},{"d":114.5,"v":1.47},{"d":115.5,"v":1.39},{"d":116.6,"v":1.46},{"d":117.5,"v":1.48},{"d":118.5,"v":1.45},{"d":119.3,"v":1.47},{"d":119.8,"v":1.38},{"d":120.6,"v":1.43},{"d":121.5,"v":1.44},{"d":122.5,"v":1.43},{"d":123.4,"v":1.46},{"d":124.5,"v":1.48},{"d":125.5,"v":1.47},{"d":126.5,"v":1.50},{"d":127.5,"v":1.48},{"d":128.5,"v":1.50},{"d":129.5,"v":1.47},{"d":130.6,"v":1.45},{"d":131.5,"v":1.46},{"d":132.5,"v":1.45},{"d":133.5,"v":1.44},{"d":134.5,"v":1.42},{"d":135.5,"v":1.42},{"d":136.5,"v":1.43},{"d":137.8,"v":1.44},{"d":138.8,"v":1.43},{"d":139.8,"v":1.44},{"d":140.6,"v":1.43},{"d":141.3,"v":1.50},{"d":142,"v":1.52},{"d":143,"v":1.55},{"d":144,"v":1.60},{"d":144.6,"v":1.63},{"d":145.6,"v":1.56},{"d":146.5,"v":1.51},{"d":147.8,"v":1.48},{"d":148.9,"v":1.60},{"d":150,"v":1.58},{"d":151.4,"v":1.70},{"d":152.8,"v":1.67},{"d":154,"v":1.66},{"d":155,"v":1.64},{"d":156,"v":1.62},{"d":156.8,"v":1.56},{"d":157.5,"v":1.50},{"d":158.5,"v":1.57},{"d":159.6,"v":1.52},{"d":160.7,"v":1.56},{"d":162,"v":1.56},{"d":162.8,"v":1.58},{"d":163.5,"v":1.72},{"d":164.3,"v":1.76},{"d":165.3,"v":1.84},{"d":166.4,"v":1.78},{"d":167.8,"v":1.70},{"d":168.5,"v":1.68},{"d":169.3,"v":1.66},{"d":170.7,"v":1.62},{"d":171.4,"v":1.60},{"d":172.1,"v":1.58},{"d":173.6,"v":1.56},{"d":175,"v":1.53},{"d":176.4,"v":1.55},{"d":177.5,"v":1.56},{"d":178.5,"v":1.55},{"d":179.5,"v":1.56},{"d":180.2,"v":1.55},{"d":180.6,"v":1.50}],
"wt1": [{"d":0.05,"v":45.585},{"d":0.55,"v":45.635},{"d":1.1,"v":45.575},{"d":1.55,"v":45.625},{"d":2.1,"v":45.58},{"d":2.55,"v":45.64},{"d":3.1,"v":45.578},{"d":3.55,"v":45.62},{"d":4.1,"v":45.585},{"d":4.55,"v":45.63},{"d":5.1,"v":45.575},{"d":5.55,"v":45.625},{"d":6.1,"v":45.582},{"d":6.55,"v":45.635},{"d":7.1,"v":45.59},{"d":7.55,"v":45.64},{"d":8.1,"v":45.58},{"d":8.55,"v":45.63},{"d":9.1,"v":45.585},{"d":9.55,"v":45.648},{"d":10.1,"v":45.588},{"d":10.55,"v":45.635},{"d":11.1,"v":45.58},{"d":11.55,"v":45.64},{"d":12.1,"v":45.585},{"d":12.55,"v":45.63},{"d":13.1,"v":45.575},{"d":13.55,"v":45.652},{"d":14.1,"v":45.578},{"d":14.55,"v":45.63},{"d":15.1,"v":45.57},{"d":15.55,"v":45.625},{"d":16.1,"v":45.575},{"d":16.55,"v":45.62},{"d":17.1,"v":45.568},{"d":17.55,"v":45.625},{"d":18.1,"v":45.572},{"d":18.55,"v":45.615},{"d":19.1,"v":45.565},{"d":19.55,"v":45.62},{"d":20.1,"v":45.56},{"d":20.55,"v":45.61},{"d":21.1,"v":45.555},{"d":21.55,"v":45.612},{"d":22.1,"v":45.552},{"d":22.55,"v":45.605},{"d":23.1,"v":45.55},{"d":23.55,"v":45.6},{"d":24.1,"v":45.545},{"d":24.55,"v":45.605},{"d":25.1,"v":45.548},{"d":25.55,"v":45.598},{"d":26.1,"v":45.54},{"d":26.55,"v":45.6},{"d":27.1,"v":45.535},{"d":27.55,"v":45.595},{"d":28.1,"v":45.54},{"d":28.55,"v":45.59},{"d":29.1,"v":45.53},{"d":29.55,"v":45.595},{"d":30.1,"v":45.532},{"d":30.55,"v":45.585},{"d":31.1,"v":45.528},{"d":31.55,"v":45.59},{"d":32.1,"v":45.525},{"d":32.55,"v":45.585},{"d":33.1,"v":45.52},{"d":33.55,"v":45.582},{"d":34.1,"v":45.522},{"d":34.55,"v":45.575},{"d":35.1,"v":45.518},{"d":35.55,"v":45.58},{"d":36.1,"v":45.52},{"d":36.55,"v":45.572},{"d":37.1,"v":45.515},{"d":37.55,"v":45.578},{"d":38.1,"v":45.512},{"d":38.55,"v":45.57},{"d":39.1,"v":45.515},{"d":39.55,"v":45.575},{"d":40.1,"v":45.51},{"d":40.55,"v":45.568},{"d":41.1,"v":45.508},{"d":41.55,"v":45.572},{"d":42.1,"v":45.51},{"d":42.55,"v":45.565},{"d":43.1,"v":45.505},{"d":43.55,"v":45.57},{"d":44.1,"v":45.508},{"d":44.55,"v":45.562},{"d":45.1,"v":45.5},{"d":45.55,"v":45.568},{"d":46.1,"v":45.502},{"d":46.55,"v":45.56},{"d":47.1,"v":45.498},{"d":47.55,"v":45.585},{"d":48.1,"v":45.495},{"d":48.55,"v":45.555},{"d":49.1,"v":45.5},{"d":49.55,"v":45.56},{"d":50.1,"v":45.49},{"d":50.55,"v":45.545},{"d":51.1,"v":45.488},{"d":51.55,"v":45.55},{"d":52.1,"v":45.49},{"d":52.45,"v":45.54},{"d":52.7,"v":45.545},{"d":53.05,"v":45.6},{"d":53.55,"v":45.55},{"d":54.05,"v":45.605},{"d":54.55,"v":45.548},{"d":55.05,"v":45.598},{"d":55.55,"v":45.552},{"d":56.05,"v":45.6},{"d":56.55,"v":45.55},{"d":57.05,"v":45.595},{"d":57.55,"v":45.555},{"d":58.05,"v":45.6},{"d":58.55,"v":45.55},{"d":59.05,"v":45.592},{"d":59.55,"v":45.552},{"d":60.05,"v":45.598},{"d":60.55,"v":45.548},{"d":61.05,"v":45.59},{"d":61.55,"v":45.55},{"d":62.05,"v":45.595},{"d":62.55,"v":45.545},{"d":63.05,"v":45.588},{"d":63.55,"v":45.548},{"d":64.05,"v":45.594},{"d":64.55,"v":45.535},{"d":65.05,"v":45.585},{"d":65.55,"v":45.532},{"d":66.05,"v":45.59},{"d":66.55,"v":45.53},{"d":67.05,"v":45.58},{"d":67.55,"v":45.528},{"d":68.05,"v":45.585},{"d":68.55,"v":45.53},{"d":69.05,"v":45.578},{"d":69.55,"v":45.525},{"d":70.05,"v":45.582},{"d":70.55,"v":45.522},{"d":71.05,"v":45.578},{"d":71.55,"v":45.518},{"d":72.05,"v":45.575},{"d":72.55,"v":45.515},{"d":73.05,"v":45.57},{"d":73.55,"v":45.518},{"d":74.05,"v":45.576},{"d":74.55,"v":45.512},{"d":75.05,"v":45.568},{"d":75.55,"v":45.515},{"d":76.05,"v":45.572},{"d":76.55,"v":45.51},{"d":77.05,"v":45.565},{"d":77.55,"v":45.512},{"d":78.05,"v":45.57},{"d":78.55,"v":45.505},{"d":79.05,"v":45.562},{"d":79.55,"v":45.5},{"d":80.05,"v":45.558},{"d":80.55,"v":45.495},{"d":81.05,"v":45.555},{"d":81.55,"v":45.5},{"d":82.05,"v":45.552},{"d":82.55,"v":45.49},{"d":83.05,"v":45.555},{"d":83.55,"v":45.488},{"d":84.05,"v":45.548},{"d":84.55,"v":45.485},{"d":85.05,"v":45.55},{"d":85.55,"v":45.48},{"d":86.05,"v":45.545},{"d":86.55,"v":45.478},{"d":87.05,"v":45.548},{"d":87.55,"v":45.47},{"d":88.05,"v":45.54},{"d":88.55,"v":45.462},{"d":89.05,"v":45.545},{"d":89.55,"v":45.468},{"d":90.05,"v":45.535},{"d":90.55,"v":45.46},{"d":91.05,"v":45.53},{"d":91.55,"v":45.462},{"d":92.05,"v":45.535},{"d":92.55,"v":45.458},{"d":93.05,"v":45.528},{"d":93.55,"v":45.46},{"d":94.05,"v":45.532},{"d":94.55,"v":45.455},{"d":95.05,"v":45.53},{"d":95.55,"v":45.458},{"d":96.05,"v":45.54},{"d":96.55,"v":45.452},{"d":97.05,"v":45.528},{"d":97.55,"v":45.456},{"d":98.05,"v":45.532},{"d":98.55,"v":45.45},{"d":99.05,"v":45.53},{"d":99.55,"v":45.455},{"d":100.05,"v":45.535},{"d":100.55,"v":45.452},{"d":101.05,"v":45.525},{"d":101.55,"v":45.45},{"d":102.05,"v":45.53},{"d":102.55,"v":45.455},{"d":103.05,"v":45.528},{"d":103.55,"v":45.448},{"d":104.05,"v":45.532},{"d":104.55,"v":45.45},{"d":105.05,"v":45.525},{"d":105.55,"v":45.445},{"d":106.05,"v":45.522},{"d":106.55,"v":45.448},{"d":107.05,"v":45.528},{"d":107.55,"v":45.442},{"d":108.05,"v":45.52},{"d":108.55,"v":45.445},{"d":109.05,"v":45.525},{"d":109.55,"v":45.44},{"d":110.05,"v":45.522},{"d":110.55,"v":45.445},{"d":111.05,"v":45.538},{"d":111.55,"v":45.425},{"d":112.05,"v":45.52},{"d":112.55,"v":45.44},{"d":113.05,"v":45.515},{"d":113.55,"v":45.438},{"d":114.05,"v":45.518},{"d":114.55,"v":45.435},{"d":115.05,"v":45.512},{"d":115.55,"v":45.44},{"d":116.05,"v":45.516},{"d":116.55,"v":45.436},{"d":117.05,"v":45.51},{"d":117.55,"v":45.438},{"d":118.05,"v":45.514},{"d":118.55,"v":45.432},{"d":119.05,"v":45.512},{"d":119.55,"v":45.436},{"d":120.05,"v":45.516},{"d":120.55,"v":45.43},{"d":121.05,"v":45.51},{"d":121.55,"v":45.435},{"d":122.05,"v":45.512},{"d":122.55,"v":45.432},{"d":123.05,"v":45.508},{"d":123.55,"v":45.436},{"d":124.05,"v":45.515},{"d":124.55,"v":45.43},{"d":125.05,"v":45.51},{"d":125.55,"v":45.434},{"d":126.05,"v":45.512},{"d":126.55,"v":45.428},{"d":127.05,"v":45.508},{"d":127.55,"v":45.432},{"d":128.05,"v":45.505},{"d":128.55,"v":45.425},{"d":129.05,"v":45.51},{"d":129.55,"v":45.43},{"d":130.05,"v":45.506},{"d":130.55,"v":45.428},{"d":131.05,"v":45.51},{"d":131.55,"v":45.418},{"d":132.05,"v":45.505},{"d":132.55,"v":45.43},{"d":133.05,"v":45.508},{"d":133.55,"v":45.426},{"d":134.05,"v":45.502},{"d":134.55,"v":45.43},{"d":135.05,"v":45.51},{"d":135.55,"v":45.428},{"d":136.05,"v":45.505},{"d":136.55,"v":45.432},{"d":137.05,"v":45.508},{"d":137.55,"v":45.426},{"d":138.05,"v":45.504},{"d":138.55,"v":45.43},{"d":139.05,"v":45.51},{"d":139.55,"v":45.432},{"d":140.05,"v":45.506},{"d":140.55,"v":45.436},{"d":141.05,"v":45.51},{"d":141.55,"v":45.42},{"d":142.05,"v":45.505},{"d":142.55,"v":45.435},{"d":143.05,"v":45.512},{"d":143.55,"v":45.438},{"d":144.05,"v":45.508},{"d":144.55,"v":45.434},{"d":145.05,"v":45.512},{"d":145.55,"v":45.438},{"d":146.05,"v":45.506},{"d":146.55,"v":45.432},{"d":147.05,"v":45.51},{"d":147.55,"v":45.436},{"d":148.05,"v":45.514},{"d":148.55,"v":45.44},{"d":149.05,"v":45.508},{"d":149.55,"v":45.434},{"d":150.05,"v":45.512},{"d":150.55,"v":45.438},{"d":151.05,"v":45.51},{"d":151.55,"v":45.435},{"d":152.05,"v":45.515},{"d":152.55,"v":45.422},{"d":153.05,"v":45.508},{"d":153.55,"v":45.436},{"d":154.05,"v":45.512},{"d":154.55,"v":45.44},{"d":155.05,"v":45.51},{"d":155.55,"v":45.434},{"d":156.05,"v":45.515},{"d":156.55,"v":45.438},{"d":157.05,"v":45.508},{"d":157.55,"v":45.44},{"d":158.05,"v":45.512},{"d":158.55,"v":45.436},{"d":159.05,"v":45.516},{"d":159.55,"v":45.44},{"d":160.05,"v":45.51},{"d":160.55,"v":45.438},{"d":161.05,"v":45.514},{"d":161.55,"v":45.442},{"d":162.05,"v":45.512},{"d":162.55,"v":45.44},{"d":163.05,"v":45.518},{"d":163.55,"v":45.444},{"d":164.05,"v":45.514},{"d":164.55,"v":45.442},{"d":165.05,"v":45.52},{"d":165.55,"v":45.446},{"d":166.05,"v":45.515},{"d":166.55,"v":45.44},{"d":167.05,"v":45.518},{"d":167.55,"v":45.444},{"d":168.05,"v":45.522},{"d":168.55,"v":45.43},{"d":169.05,"v":45.516},{"d":169.55,"v":45.445},{"d":170.05,"v":45.52},{"d":170.55,"v":45.448},{"d":171.05,"v":45.525},{"d":171.55,"v":45.446},{"d":172.05,"v":45.52},{"d":172.55,"v":45.444},{"d":173.05,"v":45.528},{"d":173.55,"v":45.448},{"d":174.05,"v":45.522},{"d":174.55,"v":45.442},{"d":175.05,"v":45.53},{"d":175.55,"v":45.446},{"d":176.05,"v":45.525},{"d":176.55,"v":45.444},{"d":177.05,"v":45.528},{"d":177.55,"v":45.448},{"d":178.05,"v":45.522},{"d":178.55,"v":45.44},{"d":179.05,"v":45.53},{"d":179.55,"v":45.445},{"d":180.05,"v":45.52},{"d":180.5,"v":45.46}],
"wt2": [{"d":0,"v":45.605},{"d":4.4,"v":45.605},{"d":6.5,"v":45.603},{"d":9.5,"v":45.606},{"d":11.6,"v":45.606},{"d":13.8,"v":45.6},{"d":17.3,"v":45.6},{"d":19.5,"v":45.593},{"d":21.6,"v":45.59},{"d":24.5,"v":45.58},{"d":28,"v":45.578},{"d":31,"v":45.565},{"d":35.2,"v":45.564},{"d":38.1,"v":45.552},{"d":41.7,"v":45.545},{"d":43.8,"v":45.536},{"d":46.7,"v":45.535},{"d":48.9,"v":45.53},{"d":50.6,"v":45.52},{"d":51.4,"v":45.52},{"d":52.4,"v":45.53},{"d":53.5,"v":45.55},{"d":54.6,"v":45.563},{"d":55.7,"v":45.568},{"d":58.5,"v":45.568},{"d":58.9,"v":45.56},{"d":60.3,"v":45.558},{"d":66,"v":45.558},{"d":68.2,"v":45.552},{"d":71.1,"v":45.545},{"d":74,"v":45.537},{"d":76.8,"v":45.535},{"d":81.1,"v":45.525},{"d":83.2,"v":45.518},{"d":88.3,"v":45.516},{"d":89,"v":45.51},{"d":91.1,"v":45.5},{"d":93.3,"v":45.495},{"d":95.5,"v":45.493},{"d":99,"v":45.493},{"d":102,"v":45.487},{"d":105.5,"v":45.487},{"d":107.7,"v":45.483},{"d":110.5,"v":45.483},{"d":112.7,"v":45.48},{"d":116.3,"v":45.48},{"d":119.9,"v":45.475},{"d":127,"v":45.475},{"d":129.2,"v":45.467},{"d":132.8,"v":45.467},{"d":134.2,"v":45.47},{"d":135.7,"v":45.47},{"d":138.5,"v":45.466},{"d":141.4,"v":45.466},{"d":145,"v":45.464},{"d":148.6,"v":45.464},{"d":150,"v":45.459},{"d":152.2,"v":45.462},{"d":155.7,"v":45.462},{"d":159.3,"v":45.467},{"d":163,"v":45.467},{"d":165,"v":45.467},{"d":166.5,"v":45.472},{"d":169.4,"v":45.477},{"d":171.5,"v":45.477},{"d":173.7,"v":45.474},{"d":180.5,"v":45.474}],
"ann": [{"d":10.1,"v":45.7457,"t":"能登半島沖地震(M6.9)"}],
"arrow": [{"d":38.4,"v":45.711,"d2":46.9,"v2":45.597,"dt":47.6,"vt":45.587}]
},
"vconcat": [
{
 "width": 886, "height": 161,
 "title": {"text": "鳥取市　気圧・降水量", "offset": 13},
 "layer": [
  {"layer": [
   {"data": {"name": "rain"}, "mark": {"type": "rule", "color": "black", "strokeWidth": 1.5},
    "encoding": {
     "x": {"field": "d", "type": "quantitative", "scale": {"domain": [0, 184], "nice": false, "zero": false},
       "axis": {"values": [0,7,14,21,28,35,42,49,56,63,70,77,84,91,98,105,112,119,126,133,140,147,154,161,168,175,182], "labelExpr": "datum.value % 14 == 0 && datum.value < 180 ? timeFormat(datetime(2007, 1, 1 + datum.value), '%-m/%-d') : ''", "title": ".", "titleOpacity": 0, "titleFontSize": 10, "titlePadding": 6, "grid": false, "offset": 39, "tickSize": -4, "labelPadding": 20, "labelFont": "Noto Sans CJK JP", "labelFontSize": 16, "labelFlush": false, "labelOverlap": false}},
     "y": {"field": "v", "type": "quantitative", "scale": {"domain": [0, 40], "nice": false},
       "axis": {"values": [0,10,20,30,40], "title": "降水量(㎜)", "ticks": false, "labelPadding": 12.5, "titlePadding": 10, "grid": true}},
     "y2": {"datum": 0}}},
   {"data": {"values": [{}]}, "mark": {"type": "rule", "color": "black", "strokeWidth": 1.5}, "encoding": {"y": {"datum": 0, "type": "quantitative"}}}
  ]},
  {"data": {"name": "pres"}, "mark": {"type": "line", "color": "black", "strokeWidth": 2},
   "encoding": {
    "x": {"field": "d", "type": "quantitative"},
    "y": {"field": "v", "type": "quantitative", "scale": {"domain": [960, 1040], "nice": false, "zero": false},
      "axis": {"orient": "right", "values": [960,980,1000,1020,1040], "format": "d", "title": "気圧(hPa)", "titleAngle": 270, "titleBaseline": "top", "ticks": false, "labelPadding": 12.5, "titlePadding": 28, "grid": false}}}}
 ],
 "resolve": {"scale": {"y": "independent"}}
},
{
 "width": 886, "height": 139,
 "title": {"text": "鳥取市　気温", "offset": 13},
 "data": {"name": "temp"},
 "mark": {"type": "line", "color": "black", "strokeWidth": 2},
 "encoding": {
  "x": {"field": "d", "type": "quantitative", "scale": {"domain": [0, 184], "nice": false, "zero": false},
    "axis": {"values": [0,7,14,21,28,35,42,49,56,63,70,77,84,91,98,105,112,119,126,133,140,147,154,161,168,175,182], "labelExpr": "datum.value % 14 == 0 && datum.value < 180 ? timeFormat(datetime(2007, 1, 1 + datum.value), '%-m/%-d') : ''", "title": ".", "titleOpacity": 0, "titleFontSize": 10, "titlePadding": 94, "grid": false, "tickSize": -5, "labelPadding": 21, "labelFont": "Noto Sans CJK JP", "labelFontSize": 16, "labelFlush": false, "labelOverlap": false}},
  "y": {"field": "v", "type": "quantitative", "scale": {"domain": [-10, 40], "nice": false, "zero": false},
    "axis": {"values": [-10,0,10,20,30,40], "title": "(℃)", "titleAngle": 0, "titleAlign": "right", "titleBaseline": "middle", "titleX": -49.5, "titleY": 78, "ticks": false, "labelPadding": 19, "grid": true}}
 }
},
{
 "width": 886, "height": 200,
 "view": {"stroke": "#888", "strokeWidth": 1.5},
 "title": {"text": "岩井温泉　水位変化(m)", "offset": 14},
 "layer": [
  {"data": {"name": "wl1"}, "mark": {"type": "line", "color": "black", "strokeWidth": 1.8},
   "encoding": {
    "x": {"field": "d", "type": "quantitative", "scale": {"domain": [0, 184], "nice": false, "zero": false},
      "axis": {"values": [0,7,14,21,28,35,42,49,56,63,70,77,84,91,98,105,112,119,126,133,140,147,154,161,168,175,182], "labelExpr": "datum.value % 14 == 0 && datum.value < 180 ? timeFormat(datetime(2007, 1, 1 + datum.value), '%-m/%-d') : ''", "title": ".", "titleOpacity": 0, "titleFontSize": 10, "titlePadding": 29, "grid": false, "tickSize": -5, "labelPadding": 21, "labelFont": "Noto Sans CJK JP", "labelFontSize": 16, "labelFlush": false, "labelOverlap": false}},
    "y": {"field": "v", "type": "quantitative", "scale": {"domain": [0.4, 2.0], "nice": false, "zero": false},
      "axis": {"values": [0.4,0.6,0.8,1.0,1.2,1.4,1.6,1.8,2.0], "format": ".1f", "title": "観測値", "ticks": false, "labelFontSize": 16, "labelPadding": 18, "titlePadding": 3, "grid": true, "gridColor": "#999", "gridDash": [7, 5]}}}},
  {"data": {"name": "wl2"}, "mark": {"type": "line", "color": "black", "strokeWidth": 1.8},
   "encoding": {
    "x": {"field": "d", "type": "quantitative"},
    "y": {"field": "v", "type": "quantitative", "scale": {"domain": [0.8, 2.4], "nice": false, "zero": false},
      "axis": {"orient": "right", "values": [0.8,1.0,1.2,1.4,1.6,1.8,2.0,2.2,2.4], "format": ".1f", "title": "補正後の値", "titleAngle": 270, "titleBaseline": "top", "ticks": false, "labelFontSize": 16, "labelPadding": 8, "titlePadding": 3, "grid": false}}}}
 ],
 "resolve": {"scale": {"y": "independent"}}
},
{
 "width": 886, "height": 210,
 "view": {"stroke": "#888", "strokeWidth": 1.5},
 "title": {"text": "岩井温泉　水温(℃)", "offset": -7},
 "layer": [
  {"layer": [
   {"data": {"name": "wt1"}, "mark": {"type": "line", "color": "black", "strokeWidth": 2.8},
    "encoding": {
     "x": {"field": "d", "type": "quantitative", "scale": {"domain": [0, 184], "nice": false, "zero": false},
       "axis": {"values": [0,7,14,21,28,35,42,49,56,63,70,77,84,91,98,105,112,119,126,133,140,147,154,161,168,175,182], "labelExpr": "datum.value % 14 == 0 && datum.value < 180 ? timeFormat(datetime(2007, 1, 1 + datum.value), '%-m/%-d') : ''", "title": null, "grid": false, "tickSize": -5, "labelPadding": 21, "labelFont": "Noto Sans CJK JP", "labelFontSize": 16, "labelFlush": false, "labelOverlap": false}},
     "y": {"field": "v", "type": "quantitative", "scale": {"domain": [45.3, 45.7], "nice": false, "zero": false},
       "axis": {"values": [45.3,45.4,45.5,45.6,45.7], "format": ".1f", "title": "観測値", "ticks": false, "labelFontSize": 16, "labelPadding": 18, "titlePadding": 7, "grid": true, "gridColor": "#999", "gridDash": [7, 5]}}}},
   {"data": {"name": "ann"}, "mark": {"type": "text", "align": "left", "baseline": "middle", "fontSize": 19, "font": "Noto Sans CJK JP", "color": "black"},
    "encoding": {"x": {"field": "d", "type": "quantitative"}, "y": {"field": "v", "type": "quantitative"}, "text": {"field": "t"}}},
   {"data": {"name": "arrow"}, "mark": {"type": "rule", "color": "black", "strokeWidth": 2},
    "encoding": {"x": {"field": "d", "type": "quantitative"}, "y": {"field": "v", "type": "quantitative"}, "x2": {"field": "d2"}, "y2": {"field": "v2"}}},
   {"data": {"name": "arrow"}, "mark": {"type": "point", "shape": "M0,0L-0.32,-1L0.32,-1Z", "filled": true, "color": "black", "opacity": 1, "size": 784, "angle": -34},
    "encoding": {"x": {"field": "dt", "type": "quantitative"}, "y": {"field": "vt", "type": "quantitative"}}}
  ]},
  {"data": {"name": "wt2"}, "mark": {"type": "line", "color": "black", "strokeWidth": 2},
   "encoding": {
    "x": {"field": "d", "type": "quantitative"},
    "y": {"field": "v", "type": "quantitative", "scale": {"domain": [45.4, 45.8], "nice": false, "zero": false},
      "axis": {"orient": "right", "values": [45.4,45.5,45.6,45.7,45.8], "format": ".1f", "title": "補正後の値", "titleAngle": 270, "titleBaseline": "top", "ticks": false, "labelFontSize": 16, "labelPadding": 13, "titlePadding": 7, "grid": false}}}}
 ],
 "resolve": {"scale": {"y": "independent"}}
}
]
}
